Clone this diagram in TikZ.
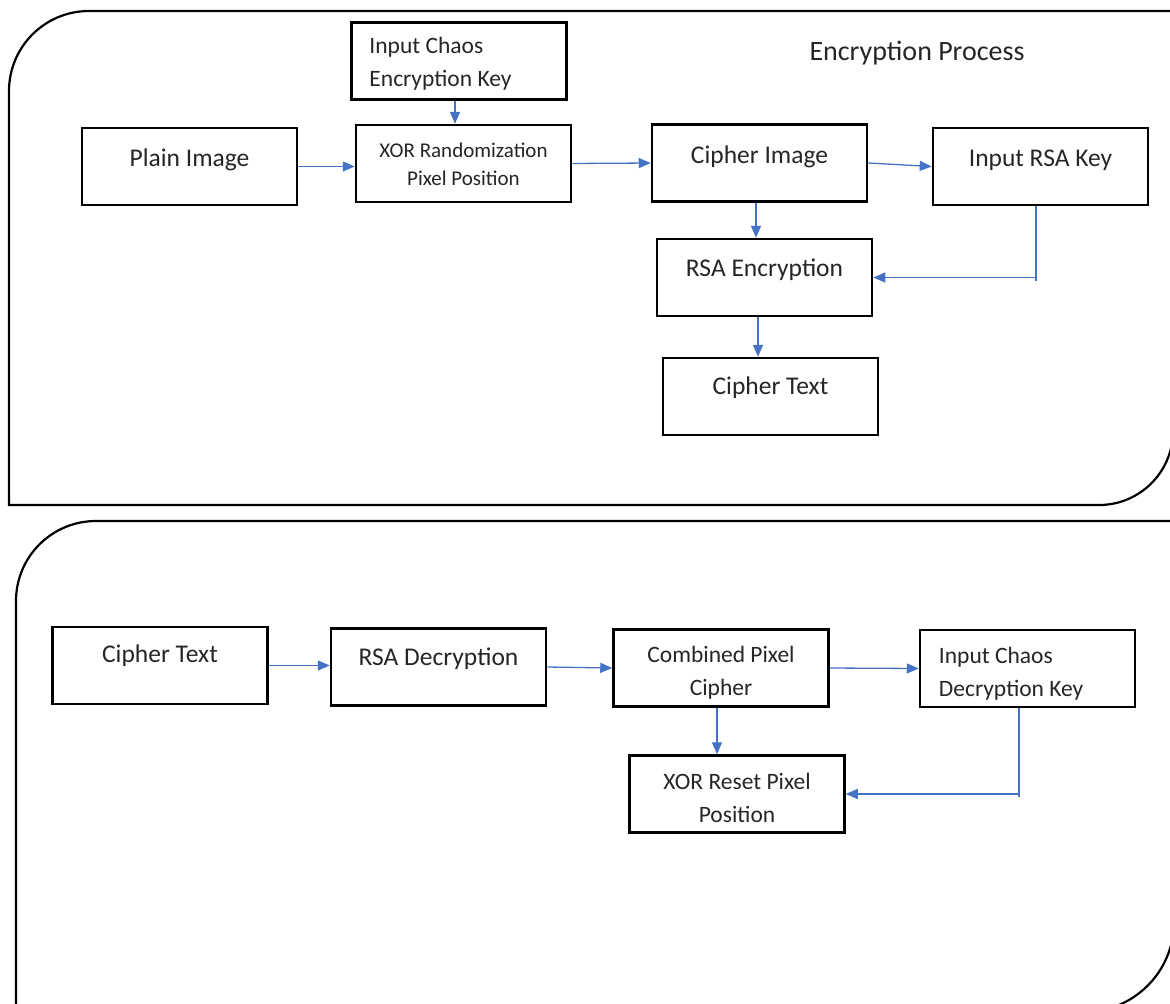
\documentclass[tikz,border=0pt]{standalone}
\usepackage{fontspec}
\setmainfont{Carlito}
\usetikzlibrary{arrows.meta}
\definecolor{flowblue}{HTML}{4472C4}
\definecolor{inkgray}{HTML}{262626}
\begin{document}
\begin{tikzpicture}[x=1pt,y=-1pt,
  panel/.style={draw=black, line width=2.2pt},
  blk/.style={draw=black, line width=2.5pt, minimum width=215pt, minimum height=77pt, inner sep=0pt},
  txt/.style={text=inkgray, inner sep=0pt, font=\fontsize{25.5}{30}\selectfont},
  txtm/.style={txt, font=\fontsize{23.5}{33}\selectfont},
  txts/.style={txt, font=\fontsize{21}{28}\selectfont},
  txtt/.style={txt, font=\fontsize{28}{32}\selectfont},
  arr/.style={draw=flowblue, line width=1.3pt, -{Triangle[length=12pt,width=10pt]}},
  wire/.style={draw=flowblue, line width=1.3pt}]
\clip (0,0) rectangle (1170,1004);
\fill[white] (0,0) rectangle (1170,1004);
\draw[panel] (9,505) -- (9,91) arc[start angle=180,end angle=90,radius=80pt] -- (1173,11) -- (1173,431) arc[start angle=0,end angle=-90,radius=74pt] -- cycle;
\draw[panel] (16,1012) -- (16,601) arc[start angle=180,end angle=90,radius=80pt] -- (1174,521) -- (1174,922) arc[start angle=0,end angle=-90,radius=90pt] -- cycle;
\node[txtt] (title) at (917,53) {Encryption Process};
\node[blk] (keyE) at (459,61) {};
\node[txtm, align=left, anchor=west] (keyET) at ([xshift=19pt,yshift=-3pt]keyE.west) {Input Chaos\\Encryption Key};
\node[blk] (plain) at (189.5,166.5) {};
\node[txt] (plainT) at ([yshift=6.5pt]plain.center) {Plain Image};
\node[blk] (xorR) at (463.5,163.5) {};
\node[txts, align=center] (xorRT) at ([yshift=-1pt]xorR.center) {XOR Randomization\\Pixel Position};
\node[blk] (cimg) at (759.5,163) {};
\node[txt] (cimgT) at ([yshift=6pt]cimg.center) {Cipher Image};
\node[blk] (rsaK) at (1040.5,166.5) {};
\node[txt] (rsaKT) at ([yshift=6.5pt]rsaK.center) {Input RSA Key};
\node[blk] (rsaE) at (764.5,277.5) {};
\node[txt] (rsaET) at ([yshift=7.5pt]rsaE.center) {RSA Encryption};
\node[blk] (ctxt) at (770.5,396.5) {};
\node[txt] (ctxtT) at ([yshift=8.5pt]ctxt.center) {Cipher Text};
\draw[arr] (plain.east) -- (plain.east -| xorR.west);
\draw[arr] ([xshift=-4pt]keyE.south) -- ([xshift=-4pt]keyE.south |- xorR.north);
\draw[arr] (xorR.east) -- (cimg.west);
\draw[arr] (cimg.east) -- (rsaK.west);
\draw[arr] ([xshift=-3.5pt]cimg.south) -- ([xshift=-3.5pt]cimg.south |- rsaE.north);
\coordinate (bendE) at ([xshift=-4.5pt]rsaK.south |- rsaE.east);
\draw[wire] ([xshift=-4.5pt]rsaK.south) -- ([yshift=-3pt]bendE);
\draw[arr] (bendE) -- (rsaE.east);
\draw[arr] ([xshift=-6.5pt]rsaE.south) -- ([xshift=-6.5pt]rsaE.south |- ctxt.north);
\node[blk] (ctxtD) at (160,665.5) {};
\node[txt] (ctxtDT) at ([yshift=9.5pt]ctxtD.center) {Cipher Text};
\node[blk] (rsaD) at (438.5,667) {};
\node[txt] (rsaDT) at ([yshift=8pt]rsaD.center) {RSA Decryption};
\node[blk] (comb) at (721,668) {};
\node[txtm, align=center] (combT) at ([yshift=-5pt]comb.center) {Combined Pixel\\Cipher};
\node[blk] (keyD) at (1027.5,668.5) {};
\node[txtm, align=left, anchor=west] (keyDT) at ([xshift=20pt,yshift=-5pt]keyD.west) {Input Chaos\\Decryption Key};
\node[blk] (xorP) at (737,794) {};
\node[txtm, align=center] (xorPT) at ([yshift=-3.5pt]xorP.center) {XOR Reset Pixel\\Position};
\draw[arr] (ctxtD.east) -- (ctxtD.east -| rsaD.west);
\draw[arr] (rsaD.east) -- (comb.west);
\draw[arr] (comb.east) -- (keyD.west);
\draw[arr] ([xshift=-4pt]comb.south) -- ([xshift=-4pt]comb.south |- xorP.north);
\coordinate (bendD) at ([xshift=-8.5pt]keyD.south |- xorP.east);
\draw[wire] ([xshift=-8.5pt]keyD.south) -- ([yshift=-3pt]bendD);
\draw[arr] (bendD) -- (xorP.east);
\end{tikzpicture}
\end{document}
